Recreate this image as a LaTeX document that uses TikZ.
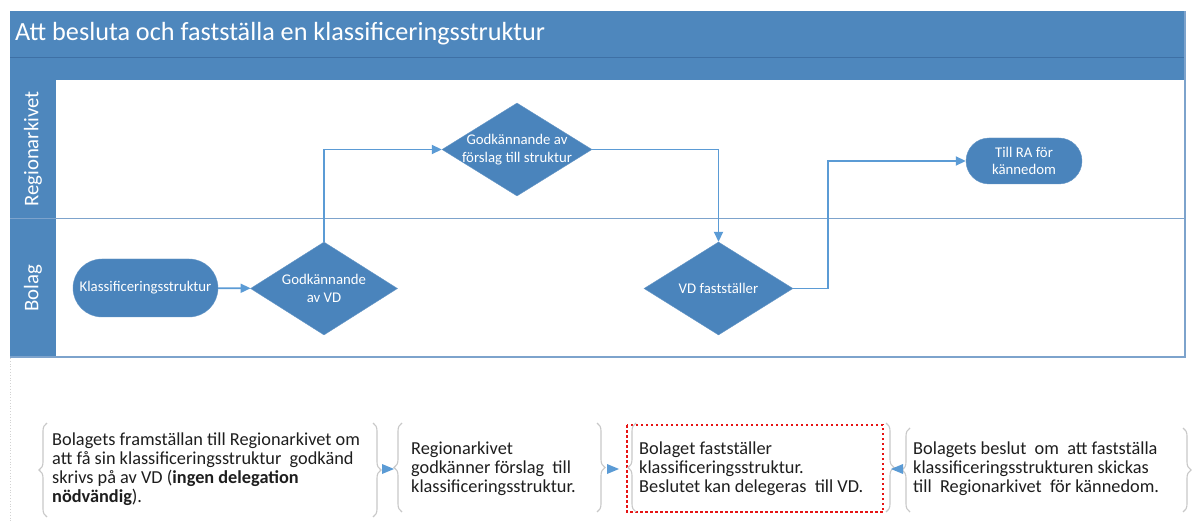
\documentclass[tikz,border=0pt]{standalone}
\usepackage{fontspec}
\setmainfont{Carlito}
\usetikzlibrary{shapes.geometric,arrows.meta,decorations.pathreplacing}
\definecolor{hdr}{RGB}{78,135,189}
\definecolor{hdrline}{RGB}{62,112,165}
\definecolor{shp}{RGB}{74,132,188}
\definecolor{conn}{RGB}{91,155,213}
\definecolor{laneline}{RGB}{125,163,204}
\definecolor{brc}{RGB}{200,200,200}
\definecolor{txt}{RGB}{30,30,30}
\definecolor{redbox}{RGB}{230,20,20}
\tikzset{
  term/.style={rectangle, fill=shp, draw=shp!85!white, text=white, align=center, inner sep=0pt,
    font=\fontsize{14.8}{17.5}\selectfont},
  dia/.style={diamond, aspect=1.58, fill=shp, draw=shp!85!white, text=white, align=center,
    inner xsep=-30pt, inner ysep=-10pt,
    minimum width=147pt, minimum height=93pt, font=\fontsize{14.8}{18.5}\selectfont},
  cn/.style={draw=conn, line width=1.8pt, -{Triangle[length=10pt,width=9pt]}},
  note/.style={anchor=north west, align=left, inner sep=0pt, text=txt, font=\fontsize{18.3}{18.7}\selectfont},
  brace/.style={draw=brc, line width=1.1pt, decorate, decoration={brace, amplitude=8pt}},
  tip/.style={fill=conn},
  lanelabel/.style={rotate=90, text=white, font=\fontsize{20.8}{24}\selectfont}
}
\begin{document}
\begin{tikzpicture}[x=1pt,y=-1pt]
\useasboundingbox[fill=white] (0,0) rectangle (1194,521);
% pool
\fill[hdr] (10,11) rectangle (1185,80);
\draw[hdrline, line width=0.8pt] (10,57) -- (1185,57);
\fill[hdr] (10,80) rectangle (56,357);
\draw[laneline, line width=1pt] (10,219) -- (1185,219);
\draw[laneline, line width=1.2pt] (1185,11) -- (1185,357) -- (10,357);
\draw[gray!35, dotted, line width=0.8pt] (10,358) -- (10,521);
\node[anchor=west, text=white, inner sep=0pt, font=\fontsize{26.2}{30}\selectfont] (title) at (15,34) {Att besluta och fastställa en klassificeringsstruktur};
\node[lanelabel] (lane1) at (33,149) {Regionarkivet};
\node[lanelabel] (lane2) at (33,288) {Bolag};
% shapes
\node[term, minimum width=145pt, minimum height=58pt, rounded corners=29pt] (klass) at (145.5,288) {Klassificeringsstruktur};
\node[dia] (gvd) at (324,288.5) {Godkännande\\av VD};
\node[dia, minimum width=150pt] (gfs) at (517,149.5) {Godkännande av\\förslag till struktur};
\node[dia, minimum width=149pt] (vdf) at (718.5,288.5) {VD fastställer};
\node[term, minimum width=116pt, minimum height=46pt, rounded corners=23pt] (ra) at (1024,161) {Till RA för\\kännedom};
% connectors
\draw[cn] (klass) -- (gvd);
\draw[cn] (gvd.north) |- (gfs.west);
\draw[cn] (gfs.east) -| (vdf.north);
\draw[cn] (vdf.east) -- ++(35,0) |- (ra.west);
% bottom notes
\node[note] (n1) at (52,433) {Bolagets framställan till Regionarkivet om\\att få sin klassificeringsstruktur\ \ godkänd\\skrivs på av VD (\textbf{ingen delegation}\\\textbf{nödvändig}).};
\node[note] (n2) at (411,442) {Regionarkivet\\godkänner förslag\ \ till\\klassificeringsstruktur.};
\node[note] (n3) at (639,442) {Bolaget fastställer\\klassificeringsstruktur.\\Beslutet kan delegeras\ \ till VD.};
\node[note] (n4) at (913,442) {Bolagets beslut\ \ om\ \ att fastställa\\klassificeringsstrukturen skickas\\till\ \ Regionarkivet\ \ för kännedom.};
\draw[redbox, line width=2.5pt, dash pattern=on 2.5pt off 2.5pt] (627,425) rectangle (883,512);
% braces
\draw[brace] (47,517) -- (47,423);
\draw[brace] (373,423) -- (373,517);
\draw[brace] (402,512) -- (402,423);
\draw[brace] (597,423) -- (597,512);
\draw[brace] (636,512) -- (636,423);
\draw[brace] (886,423) -- (886,512);
\draw[brace] (910,512) -- (910,428);
\draw[brace] (1183,428) -- (1183,512);
% small arrow tips
\fill[tip] (382,464) -- (394,469) -- (382,474) -- cycle;
\fill[tip] (607,464) -- (619,469) -- (607,474) -- cycle;
\fill[tip] (903,464) -- (891,469) -- (903,474) -- cycle;
\end{tikzpicture}
\end{document}
